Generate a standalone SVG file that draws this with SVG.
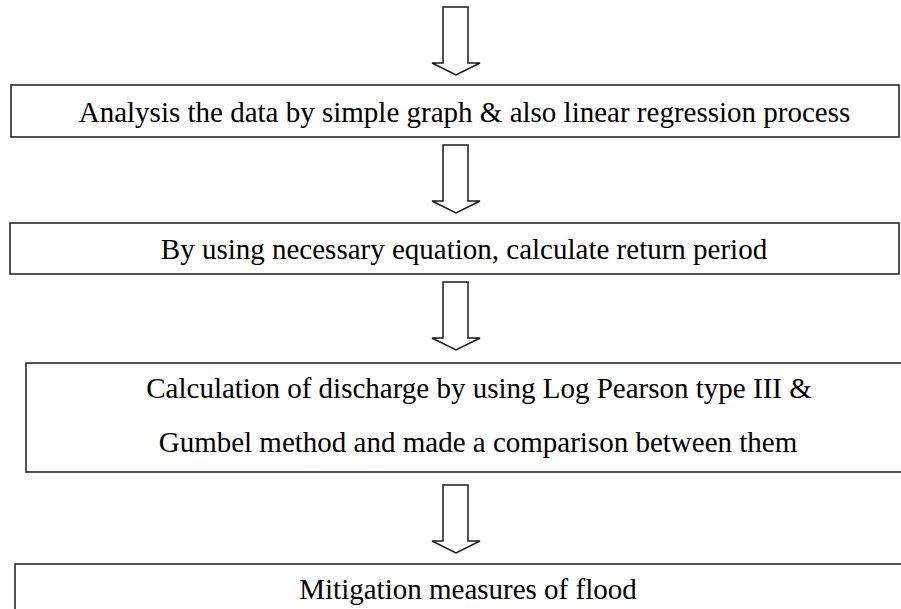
<svg xmlns="http://www.w3.org/2000/svg" width="901" height="609" viewBox="0 0 901 609">
<defs>
<style>
.box{fill:#fff;stroke:#1a1a1a;stroke-width:1.5}
.arr{fill:#fff;stroke:#1a1a1a;stroke-width:1.5;stroke-linejoin:miter}
.t{font-family:"Liberation Serif","Times New Roman",serif;font-size:29px;fill:#000;text-anchor:middle}
</style>
<path id="down" class="arr" d="M443,0 L468,0 L468,56 L480,56 L456,68 L432,56 L443,56 Z"/>
</defs>
<rect width="901" height="609" fill="#fff"/>
<g id="connectors">
<use href="#down" x="0" y="7"/>
<use href="#down" x="0" y="145"/>
<use href="#down" x="0" y="282"/>
<use href="#down" x="0" y="485"/>
</g>
<g id="n1">
<rect class="box" x="11" y="85" width="888" height="52"/>
<text class="t" x="464.5" y="122">Analysis the data by simple graph &amp; also linear regression process</text>
</g>
<g id="n2">
<rect class="box" x="10" y="223" width="889" height="51"/>
<text class="t" x="464" y="259">By using necessary equation, calculate return period</text>
</g>
<g id="n3">
<rect class="box" x="26" y="363" width="900" height="109"/>
<text class="t" x="479" y="398">Calculation of discharge by using Log Pearson type III &amp;</text>
<text class="t" x="478" y="452">Gumbel method and made a comparison between them</text>
</g>
<g id="n4">
<rect class="box" x="15" y="564" width="900" height="60"/>
<text class="t" x="468" y="599">Mitigation measures of flood</text>
</g>
</svg>
